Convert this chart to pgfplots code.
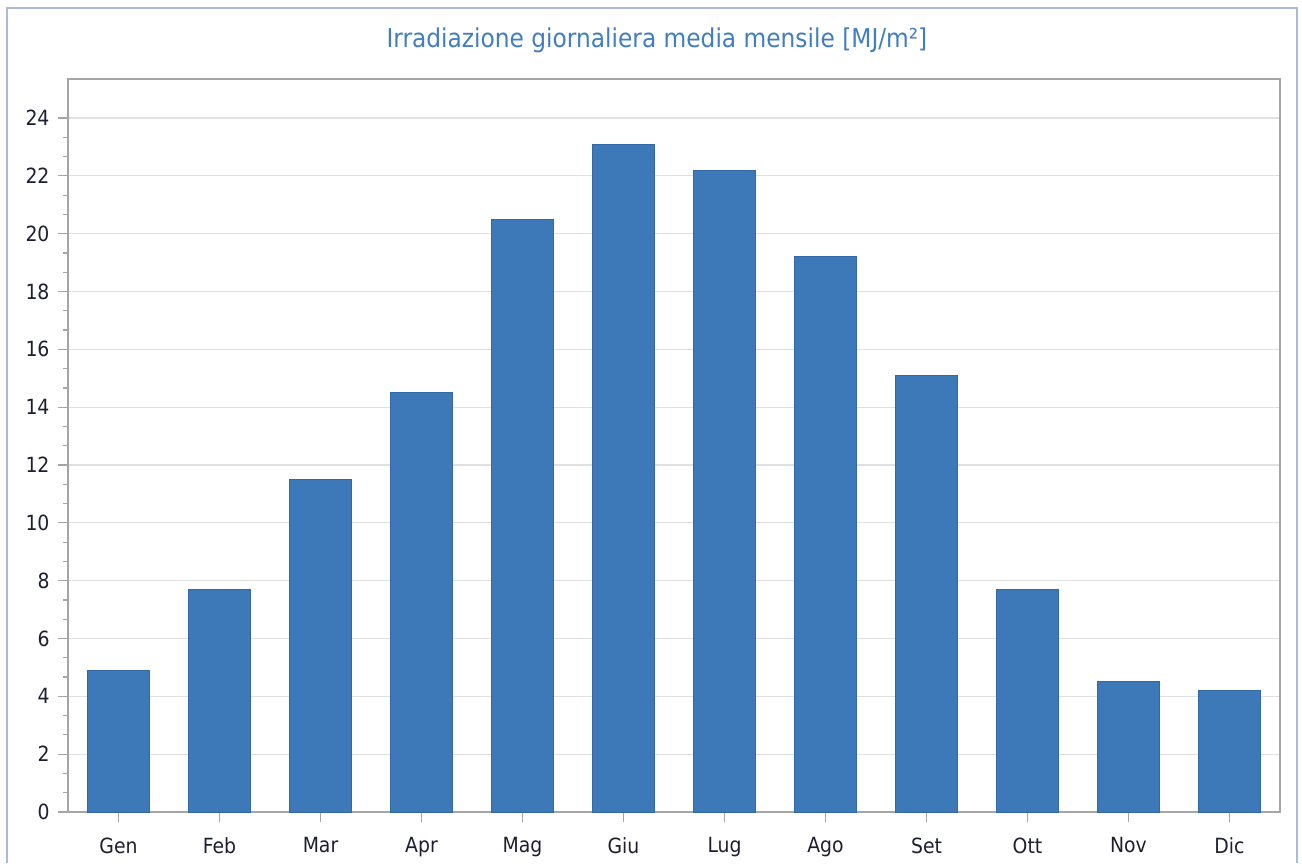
\documentclass[border=0pt]{standalone}
\usepackage{fontspec}
\setmainfont{DejaVu Sans Condensed}
\usepackage{pgfplots}
\pgfplotsset{compat=1.18}
\definecolor{barblue}{RGB}{61,121,184}
\definecolor{baredge}{RGB}{50,104,166}
\definecolor{titleblue}{RGB}{66,126,190}
\definecolor{axisgray}{RGB}{165,165,165}
\definecolor{gridgray}{RGB}{224,224,224}
\definecolor{framecol}{RGB}{170,186,215}
\definecolor{labelcol}{RGB}{30,30,50}
\begin{document}
\begin{tikzpicture}[x=1bp,y=1bp]
\path[use as bounding box] (0,0) rectangle (1302,863);
\draw[framecol, line width=1.5bp] (7,0) -- (7,855) -- (1297,855) -- (1297,0);
\node[titleblue, font=\fontsize{26}{30}\selectfont] at (657,823) {Irradiazione giornaliera media mensile [MJ/m²]};
\begin{axis}[at={(68bp,51bp)}, anchor=south west, scale only axis,
  width=1212bp, height=733bp,
  xmin=-0.5, xmax=11.5, ymin=0, ymax=25.35,
  ybar, bar width=0.62,
  xtick={0,...,11},
  xticklabels={Gen,Feb,Mar,Apr,Mag,Giu,Lug,Ago,Set,Ott,Nov,Dic},
  ytick={0,2,...,24},
  minor y tick num=2,
  ymajorgrids,
  major grid style={gridgray, line width=1.2bp},
  tick align=outside, tick pos=left,
  major tick length=10bp, minor tick length=5bp,
  tick style={axisgray, line width=1.2bp},
  axis line style={axisgray, line width=1.5bp},
  tick label style={font=\fontsize{21}{24}\selectfont, text=labelcol},
  /pgf/number format/assume math mode=true,
  yticklabel style={xshift=-5bp},
  xticklabel style={yshift=-12bp},
]
\addplot[fill=barblue, draw=baredge, line width=1bp] coordinates {
(0,4.9) (1,7.7) (2,11.5) (3,14.5) (4,20.5) (5,23.1) (6,22.2) (7,19.2) (8,15.1) (9,7.7) (10,4.5) (11,4.2)};
\end{axis}
\end{tikzpicture}
\end{document}
